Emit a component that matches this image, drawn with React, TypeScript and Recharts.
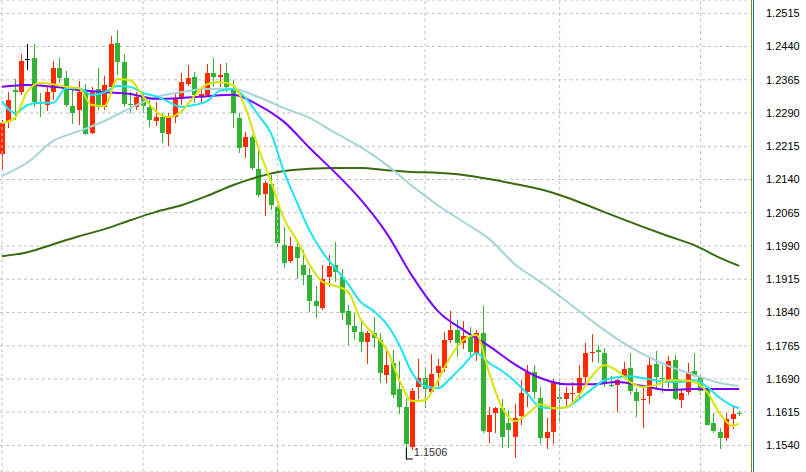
import React from 'react';
import { ComposedChart, Bar, Line, XAxis, YAxis, CartesianGrid, ReferenceLine, ReferenceDot } from 'recharts';

// daily candles, bar 0 .. 115
const opens = [
  1.2197, 1.2270, 1.2342, 1.2337, 1.2412, 1.2414, 1.2313, 1.2308, 1.2337, 1.2392,
  1.2369, 1.2306, 1.2297, 1.2337, 1.2245, 1.2344, 1.2304, 1.2349, 1.2448, 1.2405,
  1.2310, 1.2304, 1.2326, 1.2304, 1.2272, 1.2281, 1.2243, 1.2281, 1.2324, 1.2355,
  1.2371, 1.2328, 1.2331, 1.2380, 1.2371, 1.2380, 1.2346, 1.2279, 1.2213, 1.2236,
  1.2164, 1.2107, 1.2130, 1.2078, 1.1992, 1.1956, 1.1988, 1.1947, 1.1924, 1.1866,
  1.1850, 1.1920, 1.1947, 1.1920, 1.1843, 1.1809, 1.1796, 1.1773, 1.1793, 1.1778,
  1.1699, 1.1726, 1.1667, 1.1626, 1.1536, 1.1672, 1.1692, 1.1660, 1.1703, 1.1714,
  1.1778, 1.1800, 1.1771, 1.1787, 1.1748, 1.1793, 1.1570, 1.1613, 1.1624, 1.1590,
  1.1559, 1.1606, 1.1660, 1.1705, 1.1647, 1.1556, 1.1570, 1.1649, 1.1644, 1.1657,
  1.1658, 1.1694, 1.1750, 1.1755, 1.1748, 1.1676, 1.1676, 1.1694, 1.1714, 1.1660,
  1.1643, 1.1651, 1.1723, 1.1693, 1.1683, 1.1732, 1.1642, 1.1660, 1.1708, 1.1694,
  1.1665, 1.1590, 1.1570, 1.1556, 1.1599, 1.1614,
];
const highs = [
  1.2274, 1.2337, 1.2367, 1.2423, 1.2446, 1.2446, 1.2335, 1.2349, 1.2407, 1.2414,
  1.2385, 1.2349, 1.2362, 1.2355, 1.2349, 1.2392, 1.2373, 1.2464, 1.2477, 1.2423,
  1.2337, 1.2337, 1.2335, 1.2319, 1.2315, 1.2290, 1.2290, 1.2333, 1.2380, 1.2398,
  1.2382, 1.2349, 1.2401, 1.2414, 1.2401, 1.2403, 1.2364, 1.2290, 1.2247, 1.2240,
  1.2211, 1.2136, 1.2150, 1.2082, 1.2033, 1.2010, 1.1999, 1.1981, 1.1940, 1.1900,
  1.1947, 1.1969, 1.1999, 1.1938, 1.1857, 1.1839, 1.1823, 1.1798, 1.1830, 1.1793,
  1.1753, 1.1755, 1.1730, 1.1647, 1.1669, 1.1735, 1.1717, 1.1746, 1.1735, 1.1796,
  1.1843, 1.1823, 1.1821, 1.1807, 1.1800, 1.1854, 1.1626, 1.1626, 1.1644, 1.1620,
  1.1633, 1.1687, 1.1721, 1.1721, 1.1672, 1.1602, 1.1690, 1.1690, 1.1672, 1.1683,
  1.1721, 1.1771, 1.1791, 1.1766, 1.1760, 1.1696, 1.1690, 1.1728, 1.1748, 1.1669,
  1.1669, 1.1739, 1.1753, 1.1721, 1.1741, 1.1744, 1.1667, 1.1726, 1.1748, 1.1701,
  1.1674, 1.1613, 1.1579, 1.1613, 1.1629, 1.1617,
];
const lows = [
  1.2161, 1.2256, 1.2274, 1.2331, 1.2387, 1.2304, 1.2281, 1.2294, 1.2319, 1.2358,
  1.2304, 1.2265, 1.2263, 1.2240, 1.2243, 1.2297, 1.2297, 1.2342, 1.2376, 1.2304,
  1.2290, 1.2297, 1.2290, 1.2258, 1.2261, 1.2222, 1.2215, 1.2267, 1.2308, 1.2351,
  1.2313, 1.2313, 1.2326, 1.2349, 1.2349, 1.2337, 1.2256, 1.2200, 1.2188, 1.2161,
  1.2100, 1.2057, 1.2071, 1.1988, 1.1940, 1.1951, 1.1915, 1.1902, 1.1841, 1.1827,
  1.1845, 1.1897, 1.1909, 1.1823, 1.1766, 1.1778, 1.1751, 1.1723, 1.1760, 1.1681,
  1.1681, 1.1647, 1.1611, 1.1506, 1.1529, 1.1644, 1.1624, 1.1656, 1.1672, 1.1705,
  1.1771, 1.1739, 1.1757, 1.1739, 1.1730, 1.1568, 1.1545, 1.1568, 1.1534, 1.1534,
  1.1511, 1.1586, 1.1626, 1.1644, 1.1543, 1.1532, 1.1543, 1.1595, 1.1624, 1.1635,
  1.1642, 1.1681, 1.1728, 1.1726, 1.1672, 1.1672, 1.1615, 1.1692, 1.1653, 1.1604,
  1.1579, 1.1633, 1.1669, 1.1658, 1.1669, 1.1642, 1.1624, 1.1653, 1.1694, 1.1653,
  1.1586, 1.1568, 1.1532, 1.1550, 1.1577, 1.1606,
];
const closes = [
  1.2267, 1.2319, 1.2337, 1.2407, 1.2412, 1.2315, 1.2310, 1.2337, 1.2392, 1.2369,
  1.2308, 1.2290, 1.2337, 1.2243, 1.2340, 1.2304, 1.2353, 1.2446, 1.2405, 1.2310,
  1.2308, 1.2326, 1.2306, 1.2274, 1.2281, 1.2245, 1.2283, 1.2324, 1.2360, 1.2369,
  1.2331, 1.2333, 1.2380, 1.2371, 1.2376, 1.2349, 1.2290, 1.2211, 1.2236, 1.2166,
  1.2105, 1.2132, 1.2082, 1.1997, 1.1951, 1.1990, 1.1963, 1.1924, 1.1866, 1.1854,
  1.1915, 1.1945, 1.1931, 1.1839, 1.1811, 1.1796, 1.1773, 1.1793, 1.1782, 1.1703,
  1.1721, 1.1653, 1.1626, 1.1543, 1.1663, 1.1692, 1.1667, 1.1701, 1.1719, 1.1778,
  1.1800, 1.1771, 1.1787, 1.1751, 1.1793, 1.1572, 1.1608, 1.1624, 1.1559, 1.1575,
  1.1602, 1.1658, 1.1705, 1.1660, 1.1556, 1.1570, 1.1683, 1.1644, 1.1658, 1.1659,
  1.1692, 1.1748, 1.1751, 1.1751, 1.1678, 1.1674, 1.1687, 1.1712, 1.1663, 1.1640,
  1.1645, 1.1721, 1.1694, 1.1691, 1.1730, 1.1644, 1.1658, 1.1705, 1.1696, 1.1663,
  1.1586, 1.1572, 1.1556, 1.1599, 1.1611, 1.1613,
];

// moving averages: [bar, price]
const maYellow = [
  [0, 1.2267], [2, 1.2279], [4, 1.2340], [6, 1.2358], [8, 1.2355], [10, 1.2349], [12, 1.2346], [14, 1.2308],
  [16, 1.2306], [18, 1.2367], [20, 1.2364], [22, 1.2328], [24, 1.2294], [26, 1.2281], [28, 1.2294], [30, 1.2328],
  [32, 1.2355], [34, 1.2360], [36, 1.2353], [38, 1.2301], [40, 1.2211], [42, 1.2134], [44, 1.2051], [46, 1.2003],
  [48, 1.1947], [50, 1.1909], [52, 1.1900], [54, 1.1886], [56, 1.1823], [58, 1.1791], [60, 1.1757], [62, 1.1687],
  [64, 1.1640], [66, 1.1642], [68, 1.1687], [70, 1.1741], [72, 1.1778], [74, 1.1789], [76, 1.1703], [78, 1.1626],
  [80, 1.1595], [82, 1.1611], [84, 1.1633], [86, 1.1624], [88, 1.1626], [90, 1.1653], [92, 1.1696], [94, 1.1721],
  [96, 1.1708], [98, 1.1683], [100, 1.1672], [102, 1.1676], [104, 1.1687], [106, 1.1687], [108, 1.1683], [110, 1.1660],
  [112, 1.1611], [114, 1.1584], [115, 1.1590],
];
const maCyan = [
  [0, 1.2317], [2, 1.2290], [4, 1.2308], [6, 1.2313], [8, 1.2313], [10, 1.2346], [12, 1.2346], [14, 1.2331],
  [16, 1.2337], [18, 1.2351], [20, 1.2349], [22, 1.2335], [24, 1.2328], [26, 1.2315], [28, 1.2304], [30, 1.2308],
  [32, 1.2317], [34, 1.2340], [36, 1.2344], [38, 1.2324], [40, 1.2285], [42, 1.2243], [44, 1.2157], [46, 1.2089],
  [48, 1.2024], [50, 1.1976], [52, 1.1940], [54, 1.1904], [56, 1.1863], [58, 1.1843], [60, 1.1814], [62, 1.1766],
  [64, 1.1703], [66, 1.1674], [68, 1.1669], [70, 1.1692], [72, 1.1721], [74, 1.1748], [76, 1.1726], [78, 1.1708],
  [80, 1.1685], [82, 1.1656], [84, 1.1626], [86, 1.1624], [88, 1.1626], [90, 1.1644], [92, 1.1667], [94, 1.1687],
  [96, 1.1694], [98, 1.1696], [100, 1.1692], [102, 1.1687], [104, 1.1683], [106, 1.1683], [108, 1.1687], [110, 1.1672],
  [112, 1.1647], [114, 1.1629], [115, 1.1624],
];
const maPurple = [
  [0, 1.2349], [4, 1.2353], [8, 1.2349], [12, 1.2342], [16, 1.2337], [20, 1.2333], [24, 1.2322], [28, 1.2324],
  [32, 1.2328], [36, 1.2331], [40, 1.2308], [44, 1.2270], [48, 1.2211], [52, 1.2155], [56, 1.2094], [60, 1.2019],
  [64, 1.1922], [68, 1.1843], [72, 1.1800], [76, 1.1764], [80, 1.1723], [84, 1.1692], [88, 1.1678], [92, 1.1678],
  [96, 1.1683], [100, 1.1674], [104, 1.1665], [108, 1.1667], [112, 1.1667], [115, 1.1667],
];
const maLightBlue = [
  [0, 1.2148], [4, 1.2179], [8, 1.2227], [12, 1.2249], [16, 1.2272], [20, 1.2301], [24, 1.2326], [28, 1.2337],
  [32, 1.2344], [36, 1.2344], [40, 1.2326], [44, 1.2301], [48, 1.2279], [52, 1.2245], [56, 1.2213], [60, 1.2173],
  [64, 1.2125], [68, 1.2082], [72, 1.2044], [76, 1.2006], [80, 1.1949], [84, 1.1909], [88, 1.1866], [92, 1.1821],
  [96, 1.1780], [100, 1.1746], [104, 1.1719], [108, 1.1699], [112, 1.1681], [115, 1.1674],
];
const maDarkGreen = [
  [0, 1.1967], [4, 1.1976], [8, 1.1994], [12, 1.2012], [16, 1.2028], [20, 1.2048], [24, 1.2067], [28, 1.2082],
  [32, 1.2103], [36, 1.2127], [40, 1.2146], [44, 1.2159], [48, 1.2164], [52, 1.2166], [56, 1.2166], [60, 1.2161],
  [64, 1.2157], [68, 1.2155], [72, 1.2150], [76, 1.2141], [80, 1.2130], [84, 1.2118], [88, 1.2100], [92, 1.2078],
  [96, 1.2055], [100, 1.2033], [104, 1.2012], [108, 1.1992], [112, 1.1963], [115, 1.1945],
];

const priceTicks = [
  1.1540, 1.1615, 1.1690, 1.1765, 1.1840, 1.1915, 1.1990,
  1.2065, 1.2140, 1.2215, 1.2290, 1.2365, 1.2440, 1.2515,
];
const monthStarts = [0, 22, 43, 66, 87, 109];
const lowMark = { bar: 63, price: 1.1506 };

const UP = '#ff2a00';
const DOWN = '#33b233';
const GRID = '#c0c0c0';

const candles = opens.map((o, i) => ({
  i,
  o,
  h: highs[i],
  l: lows[i],
  c: closes[i],
  range: [lows[i], highs[i]],
}));

const toRows = (pts: number[][]) => pts.map(([i, v]) => ({ i, v }));

const maLines = [
  { name: 'ma100', pts: maDarkGreen, color: '#3a6b10' },
  { name: 'ma50', pts: maLightBlue, color: '#a6d5d9' },
  { name: 'ma30', pts: maPurple, color: '#7a00ff' },
  { name: 'ma10', pts: maCyan, color: '#1ee4ef' },
  { name: 'ma5', pts: maYellow, color: '#d8e400' },
];

function Candle(props: any) {
  const { x, y, width, height, payload } = props;
  if (!payload || x == null) return null;
  const { o, h, l, c } = payload;
  const top = height < 0 ? y + height : y;
  const span = Math.abs(height);
  const k = h - l > 0 ? span / (h - l) : 0;
  const py = (v: number) => top + (h - v) * k;
  const color = c > o ? UP : c < o ? DOWN : '#000000';
  const left = Math.round(x + width / 2 - 2.5);
  const bTop = py(Math.max(o, c));
  const bBot = py(Math.min(o, c));
  return (
    <g shapeRendering="crispEdges">
      <rect x={left + 2} y={top} width={1} height={Math.max(1, span)} fill={color} />
      <rect x={left} y={bTop} width={5} height={Math.max(1, bBot - bTop)} fill={color} />
    </g>
  );
}

function LowLabel(props: any) {
  const { cx, cy } = props;
  if (cx == null) return null;
  return (
    <g>
      <path d={`M${cx + 0.5},${cy - 13} V${cy - 1.5} H${cx + 7}`} stroke="#000" strokeWidth={1} fill="none" />
      <text x={cx + 8} y={cy - 4} fontSize={11} fontFamily="Liberation Sans, Arial, sans-serif" fill="#333">
        {lowMark.price.toFixed(4)}
      </text>
    </g>
  );
}

export default function App() {
  return (
    <div style={{ position: 'absolute', left: 0, top: 0, width: 806, height: 472, background: '#fff' }}>
      <ComposedChart width={806} height={472} data={candles} margin={{ top: 0, right: 0, bottom: 0, left: 0 }}>
        <CartesianGrid vertical={false} stroke={GRID} strokeDasharray="3 3" />
        <XAxis dataKey="i" type="number" domain={[-0.312, 116.85]} allowDataOverflow hide />
        <YAxis
          orientation="right"
          width={55}
          type="number"
          domain={[1.148, 1.2545]}
          allowDataOverflow
          ticks={priceTicks}
          interval={0}
          axisLine={false}
          tickLine={false}
          tickSize={0}
          tickMargin={15}
          tickFormatter={(v: number) => v.toFixed(4)}
          tick={{ fontSize: 11, fill: '#000', fontFamily: 'Liberation Sans, Arial, sans-serif', textAnchor: 'start' }}
        />
        {monthStarts.map((m) => (
          <ReferenceLine key={m} x={m} stroke={GRID} strokeDasharray="3 3" />
        ))}
        <Bar dataKey="range" barSize={5} shape={<Candle />} isAnimationActive={false} />
        {maLines.map((m) => (
          <Line
            key={m.name}
            data={toRows(m.pts)}
            dataKey="v"
            type="monotone"
            stroke={m.color}
            strokeWidth={2}
            dot={false}
            activeDot={false}
            isAnimationActive={false}
          />
        ))}
        <ReferenceDot x={lowMark.bar} y={lowMark.price} r={0} shape={<LowLabel />} />
      </ComposedChart>
      <div style={{ position: 'absolute', left: 751, top: 0, width: 1, height: 472, background: '#86861c' }} />
      <div style={{ position: 'absolute', left: 753, top: 0, width: 1, height: 472, background: '#1f7d63' }} />
    </div>
  );
}
